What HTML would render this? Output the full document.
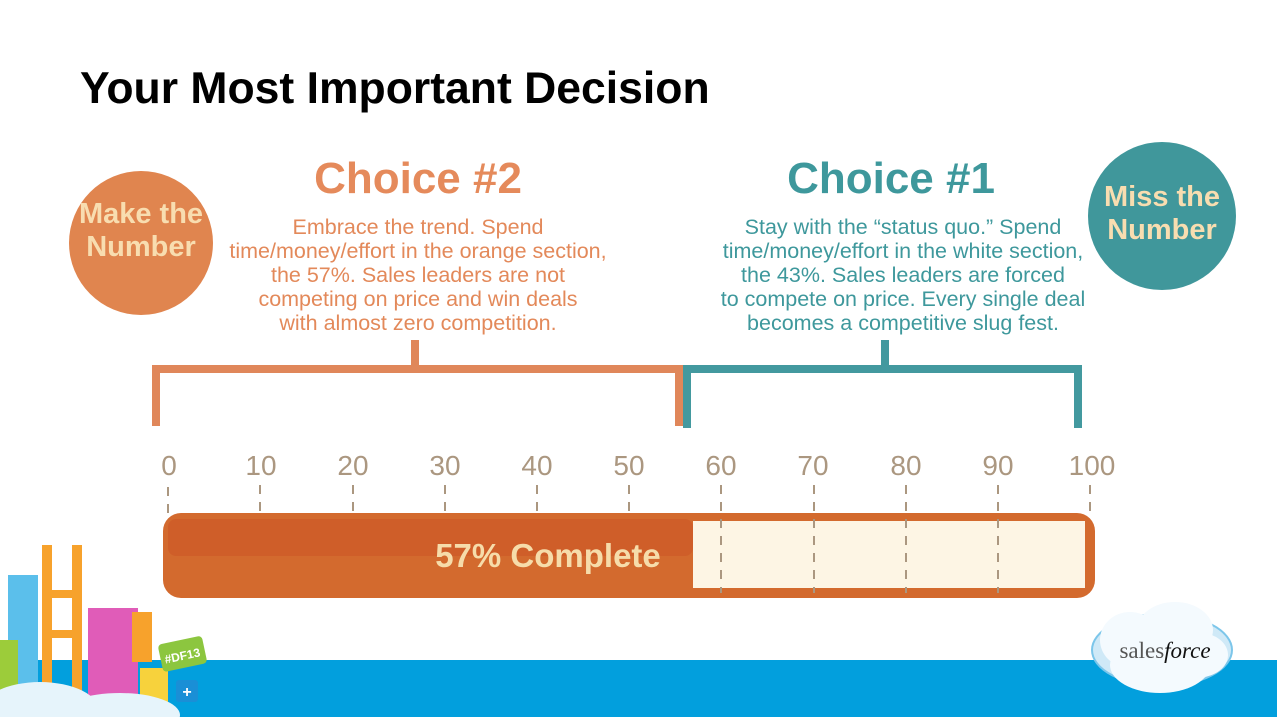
<!DOCTYPE html>
<html><head><meta charset="utf-8"><style>
body{margin:0;width:1277px;height:717px;overflow:hidden;background:#fff;font-family:"Liberation Sans",sans-serif;position:relative}
.a{position:absolute}
.t{position:absolute;text-align:center;font-size:21.5px;line-height:24px}
</style></head><body>
<div class="a" style="left:80px;top:63px;font-size:44.5px;font-weight:bold;color:#000;line-height:52px">Your Most Important Decision</div>
<div class="a" style="left:0;top:660px;width:1277px;height:57px;background:#029fdd"></div>

<div class="a" style="left:69px;top:171px;width:144px;height:144px;border-radius:50%;background:#e0854f"></div>
<div class="t" style="left:69px;top:198px;width:144px;font-size:29px;line-height:33px;font-weight:bold;color:#f8ddb0">Make the<br>Number</div>
<div class="a" style="left:1088px;top:142px;width:148px;height:148px;border-radius:50%;background:#40979b"></div>
<div class="t" style="left:1088px;top:181px;width:148px;font-size:29px;line-height:33px;font-weight:bold;color:#f8ddb0">Miss the<br>Number</div>

<div class="t" style="left:218px;top:153px;width:400px;font-size:44px;line-height:52px;font-weight:bold;color:#e58a5b">Choice #2</div>
<div class="t" style="left:688px;top:153px;width:406px;font-size:44px;line-height:52px;font-weight:bold;color:#3e989c">Choice #1</div>
<div class="t" style="left:198px;top:215px;width:440px;color:#e3895a">Embrace the trend. Spend<br>time/money/effort in the orange section,<br>the 57%. Sales leaders are not<br>competing on price and win deals<br>with almost zero competition.</div>
<div class="t" style="left:683px;top:215px;width:440px;color:#3e989c">Stay with the “status quo.” Spend<br>time/money/effort in the white section,<br>the 43%. Sales leaders are forced<br>to compete on price. Every single deal<br>becomes a competitive slug fest.</div>

<svg class="a" style="left:0;top:0" width="1277" height="717">
<g fill="#e0875a"><rect x="152" y="365" width="531" height="8"/><rect x="152" y="365" width="8" height="61"/><rect x="675" y="365" width="8" height="61"/><rect x="411" y="340" width="8" height="28"/></g>
<g fill="#43999f"><rect x="683" y="365" width="399" height="8"/><rect x="683" y="365" width="8" height="63"/><rect x="1074" y="365" width="8" height="63"/><rect x="881" y="340" width="8" height="28"/></g>
<g font-family="Liberation Sans,sans-serif" font-size="28" fill="#ab9780" text-anchor="middle">
<text x="169" y="475">0</text><text x="261" y="475">10</text><text x="353" y="475">20</text><text x="445" y="475">30</text><text x="537" y="475">40</text><text x="629" y="475">50</text><text x="721" y="475">60</text><text x="813" y="475">70</text><text x="906" y="475">80</text><text x="998" y="475">90</text><text x="1092" y="475">100</text></g>
<rect x="163" y="513" width="932" height="85" rx="18" fill="#d36a2e"/>
<rect x="168" y="519" width="525" height="37" rx="8" fill="#cf5e29"/>
<rect x="693" y="521" width="392" height="67" fill="#fdf5e4"/>
<g stroke="#ab9780" stroke-width="2" stroke-dasharray="9,8">
<line x1="168" y1="487" x2="168" y2="515"/><line x1="260" y1="485" x2="260" y2="515"/><line x1="353" y1="485" x2="353" y2="515"/><line x1="445" y1="485" x2="445" y2="515"/><line x1="537" y1="485" x2="537" y2="515"/><line x1="629" y1="485" x2="629" y2="515"/>
<line x1="721" y1="485" x2="721" y2="593"/><line x1="814" y1="485" x2="814" y2="593"/><line x1="906" y1="485" x2="906" y2="593"/><line x1="998" y1="485" x2="998" y2="593"/><line x1="1090" y1="485" x2="1090" y2="515"/></g>
<text x="548" y="567" font-family="Liberation Sans,sans-serif" font-size="33" font-weight="bold" fill="#f6dcaa" text-anchor="middle">57% Complete</text>
<rect x="8" y="575" width="30" height="110" fill="#5bbfeb"/>
<rect x="0" y="640" width="18" height="50" fill="#9ccc3a"/>
<rect x="42" y="545" width="10" height="150" fill="#f7a22c"/><rect x="72" y="545" width="10" height="150" fill="#f7a22c"/>
<rect x="42" y="590" width="40" height="8" fill="#f7a22c"/><rect x="42" y="630" width="40" height="8" fill="#f7a22c"/>
<rect x="88" y="608" width="50" height="95" fill="#e05cb8"/>
<rect x="132" y="612" width="20" height="50" fill="#f7a22c"/>
<rect x="140" y="668" width="28" height="40" fill="#f7d23c"/>
<rect x="160" y="640" width="45" height="28" rx="4" fill="#8cc63f" transform="rotate(-12 182 654)"/>
<text x="182" y="660" font-size="12" font-weight="bold" fill="#fff" text-anchor="middle" font-family="Liberation Sans,sans-serif" transform="rotate(-12 182 654)">#DF13</text>
<rect x="176" y="680" width="22" height="22" rx="3" fill="#1a8fd6"/><text x="187" y="697" font-size="16" font-weight="bold" fill="#fff" text-anchor="middle" font-family="Liberation Sans,sans-serif">+</text>
<g fill="#e6f4fb"><ellipse cx="40" cy="712" rx="60" ry="30"/><ellipse cx="120" cy="715" rx="60" ry="22"/></g>
<g fill="#cfe9f7" stroke="#7cc6ea" stroke-width="2">
<ellipse cx="1162" cy="650" rx="70" ry="36"/></g>
<g fill="#f4fafe"><ellipse cx="1130" cy="640" rx="30" ry="28"/><ellipse cx="1175" cy="630" rx="38" ry="28"/><ellipse cx="1160" cy="665" rx="50" ry="28"/><ellipse cx="1200" cy="655" rx="28" ry="22"/></g>
<text x="1165" y="658" font-family="Liberation Serif,serif" font-size="23" fill="#555" text-anchor="middle">sales<tspan fill="#111" font-style="italic">force</tspan></text>
</svg>
</body></html>
